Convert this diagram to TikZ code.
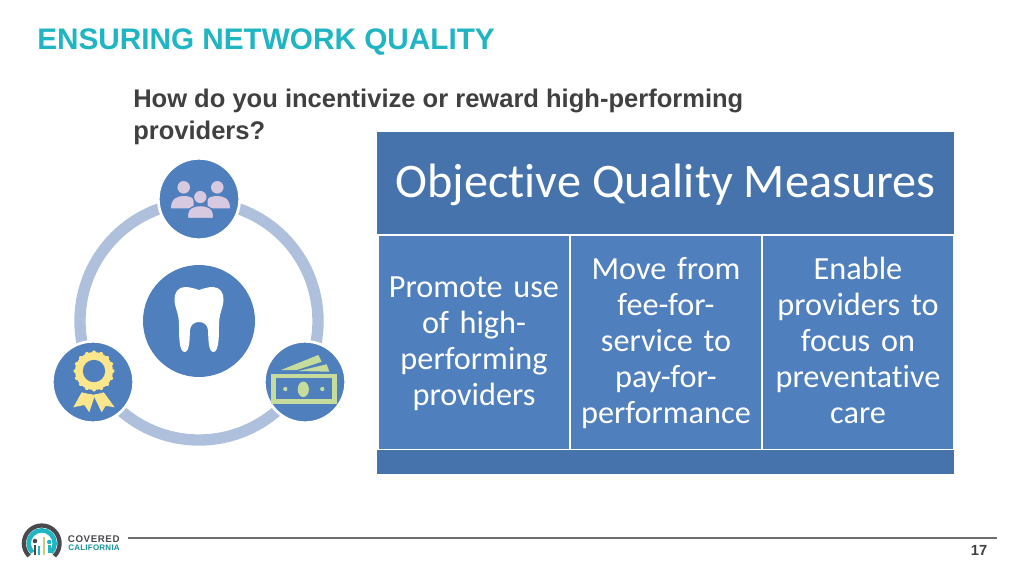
\documentclass[tikz,border=0pt]{standalone}
\usepackage{fontspec}
\setmainfont{Liberation Sans}
\newfontfamily\cellfont[Ligatures=CommonOff]{Carlito}
\usetikzlibrary{positioning}
\definecolor{mteal}{HTML}{1FB5C3}
\definecolor{mtext}{HTML}{404040}
\definecolor{mhead}{HTML}{4773AC}
\definecolor{mcell}{HTML}{4F80BD}
\definecolor{mring}{HTML}{AFC0DC}
\definecolor{mpeople}{HTML}{D6C9E0}
\definecolor{mgold}{HTML}{FBE68C}
\definecolor{mcash}{HTML}{C6DC9C}
\definecolor{mdark}{HTML}{4A4A4E}
\definecolor{mrule}{HTML}{6F6F6F}
\tikzstyle{header} = [rectangle, minimum width=432.75pt, minimum height=76.5pt, inner sep=0pt, outer sep=0pt, text=white, fill=mhead, font=\cellfont\fontsize{36.15}{40}\selectfont]
\tikzstyle{cell} = [rectangle, minimum width=142.5pt, minimum height=159.75pt, inner sep=0pt, outer sep=0pt, text width=142.5pt, text centered, text=white, fill=mcell, font=\cellfont\fontsize{24.2}{27}\selectfont, execute at begin node={\rule{0pt}{20pt}}, execute at end node={\rule[-6pt]{0pt}{6pt}}]
\tikzstyle{band} = [rectangle, minimum width=432.75pt, minimum height=18pt, inner sep=0pt, outer sep=0pt, fill=mhead]
\tikzstyle{hub} = [circle, minimum size=84pt, inner sep=0pt, outer sep=0pt, fill=mcell]
\tikzstyle{badge} = [circle, minimum size=61pt, inner sep=0pt, outer sep=0pt, fill=mcell, draw=white, line width=2pt]
\tikzstyle{loopring} = [circle, minimum size=178.5pt, inner sep=0pt, outer sep=0pt, draw=mring, line width=8.5pt]
\begin{document}
\begin{tikzpicture}[x=0.75pt,y=-0.75pt]
  \useasboundingbox (0,0) rectangle (1024,576);
  \node (title) [anchor=base west, text=mteal, font=\fontsize{22.3}{24}\bfseries\selectfont, inner sep=0pt] at (37,49) {ENSURING NETWORK QUALITY};
  \node (question) [anchor=north west, text=mtext, font=\fontsize{19.15}{24}\bfseries\selectfont, inner sep=0pt, align=left] at (133,89) {How do you incentivize or reward high-performing\\providers?};

  \node (head) [header, anchor=north west] at (377,132) {\raisebox{-10.5pt}[14pt][14pt]{Objective Quality Measures}};
  \node (cella) [cell, anchor=north west] at (379,236) {Promote use\\of high-\\performing\\providers};
  \node (cellb) [cell, right=1.5pt of cella] {Move from\\fee-for-\\service to\\pay-for-\\performance};
  \node (cellc) [cell, right=1.5pt of cellb] {Enable\\providers to\\focus on\\preventative\\care};
  \node (foot) [band, anchor=north west] at (377,450) {};

  \node (ring) [loopring] at (199,321) {};
  \node (tooth) [hub] at (199,321) {};
  \node (people) [badge] at (199,199) {};
  \node (award) [badge] at (93,382) {};
  \node (cash) [badge] at (305,382) {};

  \fill[white] (199,290) .. controls (193,288) and (189,287) .. (185,287) .. controls (178,287) and (174,293) .. (174.5,300) .. controls (175,309) and (179,313) .. (179,325) .. controls (179,335) and (179,352) .. (184.5,352) .. controls (190,352) and (189.5,338) .. (190,330) .. controls (190.5,325) and (194,322) .. (199,322) .. controls (204,322) and (207.5,325) .. (208,330) .. controls (208.5,338) and (208,352) .. (213.5,352) .. controls (219,352) and (219,335) .. (219,325) .. controls (219,313) and (223,309) .. (223.5,300) .. controls (224,293) and (220,287) .. (213,287) .. controls (209,287) and (205,288) .. (199,290) -- cycle;

  \fill[mpeople] (183.7,187.3) circle (4.7pt) (217.3,187.3) circle (4.7pt);
  \fill[mpeople] (171,208.3) .. controls (171,198) and (178,196) .. (184,196) .. controls (190,196) and (193,198) .. (193.5,200) -- (193.5,208.3) -- cycle;
  \fill[mpeople] (230,208.3) .. controls (230,198) and (223,196) .. (217,196) .. controls (211,196) and (208,198) .. (207.5,200) -- (207.5,208.3) -- cycle;
  \fill[mpeople, draw=mcell, line width=1pt] (200.3,197) circle (5.2pt);
  \fill[mpeople, draw=mcell, line width=1pt] (187.5,218.5) -- (187.5,214) .. controls (187.5,208) and (194,205.5) .. (200.5,205.5) .. controls (207,205.5) and (213.5,208) .. (213.5,214) -- (213.5,218.5) -- cycle;

  \fill[mgold] (81.7,392.3) -- (73.3,407.3) -- (84.3,405) -- (89.3,412.3) -- (95,395) -- cycle;
  \fill[mgold] (93.3,395) -- (101.7,412.3) -- (105.7,405.7) -- (114.7,407.3) -- (103.3,391.7) -- cycle;
  \foreach \ang in {0,22.5,...,359}
    \fill[mgold] (94,371) ++(\ang:13.9pt) circle (1.5pt);
  \fill[mgold] (94,371) circle (14.2pt);
  \draw[mcell, line width=0.6pt] (82,391) .. controls (87,394.5) and (100,394.5) .. (105,391);
  \fill[mcell] (94,371) circle (8.4pt);

  \fill[mcash] (281,370) -- (318.3,355) -- (321.7,361.7) -- (296.7,370) -- cycle;
  \fill[mcash] (298.3,371) -- (326.7,364.3) -- (329.3,371.7) -- cycle;
  \fill[mcash] (270.7,374) rectangle (336.7,404.3);
  \fill[mcell] (275.7,378.3) rectangle (331.7,399.3);
  \fill[mcash] (303.3,389.3) ellipse (4.2pt and 5.8pt);
  \fill[mcash] (285.3,389) circle (1.6pt) (322.3,389) circle (1.6pt);

  \draw[mdark, line width=3.2pt] (29.1,556) arc[start angle=225, end angle=-45, radius=13.4pt];
  \draw[mteal, line width=3.4pt] (32.5,552.5) arc[start angle=225, end angle=-45, radius=9.75pt];
  \draw[mdark, line width=2pt] (35,545) -- (35,555);
  \fill[mdark] (35,541) circle (1.7pt);
  \draw[mteal, line width=1.5pt] (39.3,546) -- (39.3,555);
  \draw[mcash!50!mgold!90!black, line width=2pt] (44,537) -- (44,555);
  \draw[mteal, line width=2pt] (49.3,545) -- (49.3,553);
  \fill[mteal] (49.3,542) circle (1.7pt);
  \node (covered) [anchor=west, inner sep=0pt, text=mdark, font=\fontsize{7.3}{8}\bfseries\selectfont\addfontfeature{LetterSpace=6}] at (67.7,538.7) {COVERED};
  \node (california) [anchor=west, inner sep=0pt, text=mteal!80!black, font=\fontsize{6}{7}\bfseries\selectfont\addfontfeature{LetterSpace=3}] at (68,548) {CALIFORNIA};

  \coordinate (rulel) at (128,538);
  \coordinate (ruler) at (997,538);
  \draw[mrule, line width=0.9pt] (rulel) -- (ruler);
  \node (pagenum) [text=mtext, inner sep=0pt, font=\fontsize{11}{13}\bfseries\selectfont] at (979,550) {17};
\end{tikzpicture}
\end{document}
